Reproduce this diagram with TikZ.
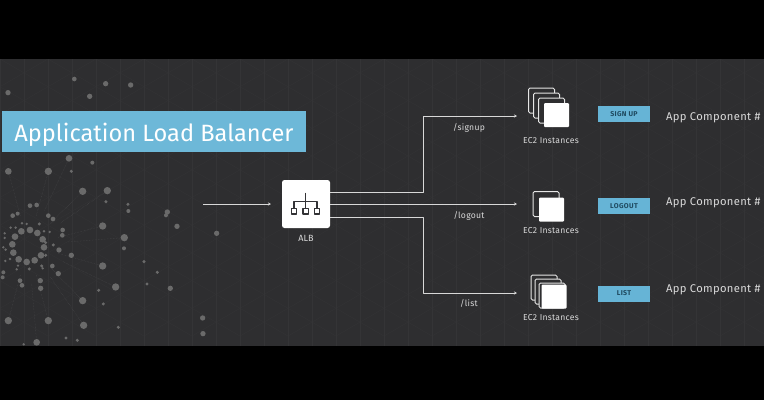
\documentclass[tikz,border=0pt]{standalone}
\usepackage{fontspec}
\setmainfont{Fira Sans}
\usetikzlibrary{arrows.meta}
\definecolor{bandbg}{HTML}{2E2E30}
\definecolor{latline}{HTML}{343436}
\definecolor{titleblue}{HTML}{6DB8D8}
\definecolor{tagblue}{HTML}{66B4D6}
\definecolor{tagtext}{HTML}{1F4A60}
\definecolor{dotgray}{HTML}{6A6A6A}
\definecolor{rayline}{HTML}{454547}
\definecolor{iconink}{HTML}{333336}
\definecolor{wireline}{HTML}{D8D8D8}
\definecolor{softtext}{HTML}{DADADA}
\tikzset{
  wire/.style={wireline, line width=1pt},
  tiparrow/.style={wire, -{Stealth[length=3pt,width=3pt]}},
  cardline/.style={draw=white!90!black, line width=1pt, rounded corners=1.5pt, fill=bandbg, minimum width=26pt, minimum height=25pt, inner sep=0pt},
  cardfill/.style={fill=white, rounded corners=1pt, minimum width=25pt, minimum height=24pt, inner sep=0pt},
  ec2label/.style={softtext, font=\fontsize{8.6}{10}\selectfont\addfontfeatures{LetterSpace=3}, inner sep=0pt},
  routelabel/.style={softtext, font=\fontsize{8.6}{10}\selectfont\addfontfeatures{LetterSpace=3}, inner sep=0pt},
  tagbox/.style={fill=tagblue, text=tagtext, font=\fontsize{7}{8}\selectfont\bfseries\addfontfeatures{LetterSpace=5}, minimum width=52pt, minimum height=16pt, inner sep=0pt},
  complabel/.style={softtext, anchor=west, font=\fontsize{11.2}{14}\selectfont\addfontfeatures{LetterSpace=3}, inner sep=0pt},
  iconline/.style={iconink, line width=1.3pt},
  iconbox/.style={draw=iconink, line width=1.3pt, fill=white, minimum size=5.5pt, inner sep=0pt}
}
\begin{document}
\begin{tikzpicture}[x=1pt, y=-1pt, line join=round]
	\def\bandtop{59} \def\bandbot{346} % dark band
	\fill[black] (0,0) rectangle (764,400);
	\useasboundingbox (0,0) rectangle (764,400);
	\fill[bandbg] (0,\bandtop) rectangle (764,\bandbot);
	% faint lattice
	\begin{scope}
		\clip (0,\bandtop) rectangle (764,\bandbot);
		\foreach \gx in {0,24,...,768} \draw[latline, line width=0.3pt] (\gx,\bandtop)--(\gx,\bandbot);
		\foreach \gx in {-480,-432,...,768} {
			\draw[latline, line width=0.3pt] (\gx,\bandtop)--(\gx+480,\bandtop+277);
			\draw[latline, line width=0.3pt] (\gx+480,\bandtop)--(\gx,\bandtop+277);
		}
	\end{scope}
	% particles, read off a 3x crop
	\begin{scope}[shift={(0,60)}, scale=0.3333]
		\foreach \rx/\ry in {207/295,145/334,25/334,248/394,322/392,308/498,373/533,308/618,347/681,248/722,251/796,145/782,25/782,110/847}
			\draw[rayline, densely dotted, line width=0.5pt] ({85+0.4*(\rx-85)},{555+0.4*(\ry-555)})--(\rx,\ry);
		\foreach \dx/\dy/\dr in {223/57/7,317/71/8,392/75/8,269/109/8,24/98/8,207/295/10,277/308/6,214/334/5,25/334/10,145/334/11,
			248/394/11,322/392/11,318/425/5,384/433/5,385/453/6,90/437/7,110/435/7,38/467/7,53/461/6,145/467/7,159/477/7,
			118/492/5,66/490/4,80/492/4,32/503/4,47/503/4,308/498/11,373/533/11,372/565/6,502/456/8,498/466/6,531/499/8,650/520/8,
			188/510/7,187/526/7,149/516/4,132/514/4,64/514/10,90/510/10,112/519/10,128/538/10,132/562/10,123/586/10,104/601/10,
			80/606/10,56/598/10,40/578/10,37/553/10,45/530/10,14/520/4,14/534/4,10/562/4,17/569/4,177/570/8,214/586/8,160/555/5,
			137/548/5,137/586/5,16/603/4,30/597/4,54/617/4,50/628/4,88/627/5,125/618/5,128/625/4,157/618/7,175/641/8,308/618/11,
			347/681/11,432/605/5,472/637/5,441/672/5,511/685/8,296/691/5,310/732/5,248/722/11,251/796/11,355/802/5,198/834/5,
			232/841/5,145/782/11,25/782/11,110/847/10,71/853/4,121/662/8,122/685/8,60/662/7,66/676/7,10/637/6,8/652/6,608/774/8,609/821/8}
			\fill[dotgray] (\dx,\dy) circle (\dr);
	\end{scope}
	% title
	\node[fill=titleblue, text=white, minimum width=304pt, minimum height=41pt, inner sep=0pt, font=\fontsize{23.6}{30}\selectfont] (title) at (154,131.5) {\raisebox{-9.5pt}[0pt][0pt]{Application Load Balancer}};
	% ALB
	\node[fill=white, rounded corners=2.5pt, minimum size=48pt, inner sep=0pt] (alb) at (306,204) {};
	\node[softtext, inner sep=0pt, font=\fontsize{9}{10}\selectfont] (alblabel) at (306,238) {ALB};
	\draw[iconline] (305.7,192.7)--(305.7,201.7);
	\draw[iconline] (294,208)--(294,201.7)--(317,201.7)--(317,208);
	\draw[iconline] (305.7,201.7)--(305.7,208);
	\foreach \ix/\iname in {294/icona,305.7/iconb,317/iconc}
		\node[iconbox] (\iname) at (\ix,211.3) {};
	% EC2 stacks
	\foreach \cx/\cy/\cname in {541.5/100.5/upa,546.5/105.5/upb,551.5/110.5/upc,
		546/204/mida,544/287.5/lowa,548/291.5/lowb,552/295.5/lowc}
		\node[cardline] (\cname) at (\cx,\cy) {};
	\node[cardfill] (upfront) at (556.5,115) {};
	\node[cardfill] (midfront) at (551.5,209.5) {};
	\node[cardfill] (lowfront) at (554,296.5) {};
	\node[ec2label] (upec2) at (551,140.5) {EC2 Instances};
	\node[ec2label] (midec2) at (551,230.5) {EC2 Instances};
	\node[ec2label] (lowec2) at (551,317.5) {EC2 Instances};
	% connectors
	\coordinate (inpoint) at (203,204);
	\coordinate (upend) at (517,116);
	\coordinate (midend) at (517,204);
	\coordinate (lowend) at (517,293);
	\coordinate (upknee) at (423,192);
	\coordinate (lowknee) at (423,217);
	\draw[tiparrow] (inpoint)--(271,204);
	\draw[tiparrow] (alb.east |- upknee)--(upknee)--(upknee |- upend)--(upend);
	\draw[tiparrow] (alb.east)--(midend);
	\draw[tiparrow] (alb.east |- lowknee)--(lowknee)--(lowknee |- lowend)--(lowend);
	\node[routelabel] (signup) at (469,127.5) {/signup};
	\node[routelabel] (logout) at (469,215.5) {/logout};
	\node[routelabel] (listlabel) at (469,303) {/list};
	% tags and components
	\node[tagbox] (tagsign) at (624,114) {SIGN UP};
	\node[tagbox] (taglog) at (624,206) {LOGOUT};
	\node[tagbox] (taglist) at (624,293.5) {LIST};
	\node[complabel] (compa) at (666,117.5) {App Component \#};
	\node[complabel] (compb) at (666,202.5) {App Component \#};
	\node[complabel] (compc) at (666,289.5) {App Component \#};
\end{tikzpicture}
\end{document}
